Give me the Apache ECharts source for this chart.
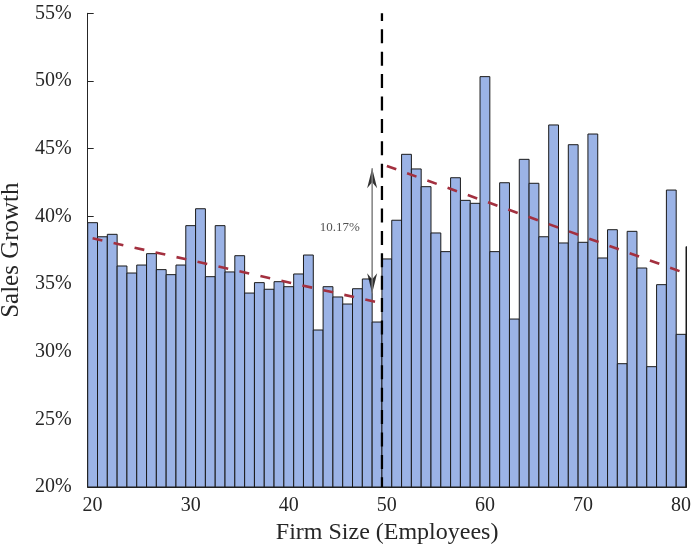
<!DOCTYPE html>
<html>
<head>
<meta charset="utf-8">
<script src="https://cdn.jsdelivr.net/npm/echarts@6/dist/echarts.min.js"></script>
<style>
html,body{margin:0;padding:0;background:#fff;}
#chart{width:692px;height:544px;}
</style>
</head>
<body>
<div id="chart"></div>
<script>
// ---- data ----
const firmSize = [20,21,22,23,24,25,26,27,28,29,30,31,32,33,34,35,36,37,38,39,40,41,42,43,44,45,46,47,48,49,50,51,52,53,54,55,56,57,58,59,60,61,62,63,64,65,66,67,68,69,70,71,72,73,74,75,76,77,78,79,80,81];
const salesGrowth = [39.53,38.49,38.67,36.33,35.81,36.40,37.24,36.06,35.69,36.40,
                     39.31,40.56,35.54,39.31,35.89,37.09,34.33,35.10,34.61,35.17,
                     34.80,35.74,37.14,31.60,34.80,34.04,33.52,34.65,35.37,32.19,
                     36.85,39.71,44.58,43.50,42.19,38.77,37.39,42.85,41.18,40.96,
                     50.32,37.39,42.48,32.41,44.21,42.44,38.49,46.75,38.03,45.29,
                     38.08,46.08,36.92,39.01,29.11,38.89,36.18,28.89,34.95,41.94,
                     31.28,37.76];
const leftFitX = [20, 49.5];
const leftFitY = [38.38, 33.57];
const rightFitX = [50, 80];
const rightFitY = [43.72, 35.91];
const cutoffX = 49.5;
const arrowX = 48.5;
const arrowY = [34.31, 43.55];
const gapLabel = '10.17%';
const gapLabelPos = [45.2, 39.16];
const xTicks = [20,30,40,50,60,70,80];
const yTicks = [20,25,30,35,40,45,50,55];
const xRange = [19.5, 80.55];
const yRange = [20, 55];

// ---- layout ----
const gridL = 87.7, gridR = 5.5, gridT = 13.3, gridB = 57;
const font = "'Liberation Serif','DejaVu Serif',serif";
const txt = '#262626';

const chart = echarts.init(document.getElementById('chart'), null, {renderer:'canvas'});
chart.setOption({
  animation: false,
  grid: {left: gridL, right: gridR, top: gridT, bottom: gridB, containLabel: false, outerBoundsMode: 'none'},
  xAxis: {
    type: 'value', min: xRange[0], max: xRange[1],
    axisLine: {show: true, lineStyle: {color: txt, width: 1}},
    axisTick: {show: false},
    splitLine: {show: false},
    axisLabel: {customValues: xTicks, color: txt, fontFamily: font, fontSize: 20, margin: 9},
    name: 'Firm Size (Employees)', nameLocation: 'middle', nameGap: 29,
    nameTextStyle: {color: txt, fontFamily: font, fontSize: 24}
  },
  yAxis: {
    type: 'value', min: yRange[0], max: yRange[1], interval: 5,
    axisLine: {show: true, lineStyle: {color: txt, width: 1}},
    axisTick: {show: true, inside: true, length: 6, lineStyle: {color: txt}},
    splitLine: {show: false},
    axisLabel: {customValues: yTicks, formatter: '{value}%', color: txt, fontFamily: font, fontSize: 20, margin: 16},
    name: 'Sales Growth', nameLocation: 'middle', nameGap: 56,
    nameTextStyle: {color: txt, fontFamily: font, fontSize: 25}
  },
  series: [
    {
      type: 'custom',
      data: firmSize.map((x, i) => [x, salesGrowth[i]]),
      encode: {x: 0, y: 1},
      renderItem: function (params, api) {
        const x = api.value(0), v = api.value(1);
        const p0 = api.coord([x - 0.5, v]);
        const p1 = api.coord([x + 0.5, yRange[0]]);
        const cs = params.coordSys;
        const r = echarts.graphic.clipRectByRect(
          {x: p0[0], y: p0[1], width: p1[0] - p0[0], height: p1[1] - p0[1]},
          {x: cs.x, y: cs.y, width: cs.width, height: cs.height});
        if (!r) return null;
        return {type: 'rect', shape: r,
                style: {fill: '#9bb3e6', stroke: '#1a1a1a', lineWidth: 1}};
      }
    },
    {
      type: 'line', symbol: 'none', clip: true,
      data: leftFitX.map((x, i) => [x, leftFitY[i]]),
      lineStyle: {color: '#a3303f', width: 2.6, type: [10, 11.5]}
    },
    {
      type: 'line', symbol: 'none', clip: true,
      data: rightFitX.map((x, i) => [x, rightFitY[i]]),
      lineStyle: {color: '#a3303f', width: 2.6, type: [10, 11.5]}
    },
    {
      type: 'line', symbol: 'none', clip: true,
      data: [[cutoffX, yRange[1]], [cutoffX, yRange[0]]],
      lineStyle: {color: '#000', width: 2.3, type: [14, 8.4], dashOffset: 6.4}
    },
    {
      type: 'line', symbol: 'none',
      data: arrowY.map(y => [arrowX, y]),
      lineStyle: {color: '#808080', width: 1.5, type: 'solid'}
    },
    {
      type: 'scatter', symbolSize: [10, 20],
      itemStyle: {color: '#000'},
      data: [
        {value: [arrowX, arrowY[1]], symbol: 'path://M5,0 L10,20 L5,14 L0,20 Z', symbolOffset: [0, 10]},
        {value: [arrowX, arrowY[0]], symbol: 'path://M0,0 L5,6 L10,0 L5,20 Z', symbolOffset: [0, -10]}
      ]
    },
    {
      type: 'scatter', symbolSize: 0,
      data: [gapLabelPos],
      label: {show: true, position: 'inside', formatter: gapLabel, color: txt, fontFamily: font, fontSize: 13}
    }
  ]
});
</script>
</body>
</html>
